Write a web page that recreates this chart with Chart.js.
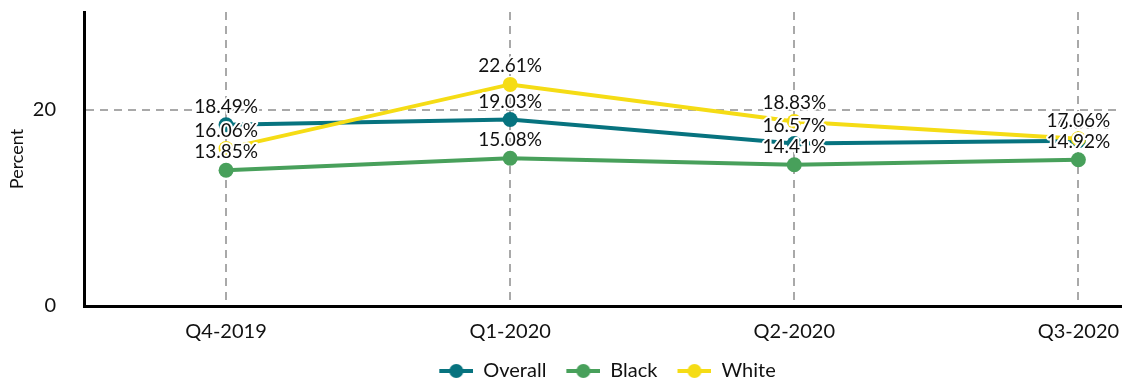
<!DOCTYPE html>
<html>
<head>
<meta charset="utf-8">
<script src="https://cdn.jsdelivr.net/npm/chart.js@4/dist/chart.umd.min.js"></script>
<style>
  html, body { margin: 0; padding: 0; background: #fff; }
  #wrap { width: 1122px; height: 379px; }
</style>
</head>
<body>
<div id="wrap"><canvas id="chart" width="1122" height="379"></canvas></div>
<script>
// 季度与各组比例（%）
const quarters = ['Q4-2019', 'Q1-2020', 'Q2-2020', 'Q3-2020'];
const overall = [18.49, 19.03, 16.57, 16.86];
const black = [13.85, 15.08, 14.41, 14.92];
const white = [16.06, 22.61, 18.83, 17.06];
const yTicks = [0, 20];

const colors = { overall: '#07737f', black: '#48a05b', white: '#f5dc15' };
const FONT = 'Lato, "Open Sans", sans-serif';

// 图例用的“线+圆点”小图标（左侧留白当作间距）
function legendIcon(color) {
    let c = document.createElement('canvas');
    c.width = 44;
    c.height = 16;
    let g = c.getContext('2d');
    g.strokeStyle = color;
    g.lineWidth = 4;
    g.beginPath();
    g.moveTo(10, 8);
    g.lineTo(44, 8);
    g.stroke();
    g.fillStyle = color;
    g.beginPath();
    g.arc(27, 8, 7, 0, Math.PI * 2);
    g.fill();
    return c;
}

function series(label, values, color, order) {
    return {
        label: label,
        data: values.map((v, i) => ({ x: i, y: v })),
        borderColor: color,
        backgroundColor: color,
        borderWidth: 4,
        pointRadius: 7.5,
        pointBorderWidth: 0,
        pointBackgroundColor: color,
        pointStyle: 'circle',
        tension: 0,
        order: order
    };
}

// 在每个点上方写数值，白色描边
const valueLabels = {
    id: 'valueLabels',
    afterDatasetsDraw(chart) {
        const ctx = chart.ctx;
        ctx.save();
        ctx.font = '19px ' + FONT;
        ctx.textAlign = 'center';
        ctx.textBaseline = 'alphabetic';
        ctx.lineJoin = 'round';
        chart.data.datasets.forEach((ds, di) => {
            const meta = chart.getDatasetMeta(di);
            meta.data.forEach((pt, i) => {
                const text = ds.data[i].y.toFixed(2) + '%';
                ctx.strokeStyle = '#fff';
                ctx.lineWidth = 4;
                ctx.strokeText(text, pt.x, pt.y - 12);
                ctx.fillStyle = '#111';
                ctx.fillText(text, pt.x, pt.y - 12);
            });
        });
        ctx.restore();
    }
};

// 去掉刻度文字带来的额外留白
function noPad(scale) {
    scale.paddingTop = 0;
    scale.paddingBottom = 0;
    scale.paddingLeft = 0;
    scale.paddingRight = 0;
}

const gridStyle = { color: '#a9a9a9', lineWidth: 2, drawTicks: false };
const axisBorder = { color: '#000', width: 3, dash: [8, 6] };

Chart.defaults.font.family = FONT;
Chart.defaults.color = '#111';

new Chart(document.getElementById('chart'), {
    type: 'line',
    data: {
        datasets: [
            series('Overall', overall, colors.overall, 3),
            series('Black', black, colors.black, 2),
            series('White', white, colors.white, 1)
        ]
    },
    options: {
        responsive: false,
        animation: false,
        layout: { padding: { top: 12, right: 1, left: 0, bottom: -12 }, autoPadding: false },
        scales: {
            x: {
                type: 'linear',
                min: -0.5,
                max: 3.15,
                afterBuildTicks: scale => { scale.ticks = quarters.map((q, i) => ({ value: i })); },
                afterFit: scale => { scale.height = 45; noPad(scale); },
                ticks: {
                    callback: v => quarters[v],
                    font: { size: 20 },
                    color: '#111',
                    padding: 14,
                    maxRotation: 0
                },
                grid: gridStyle,
                border: axisBorder
            },
            y: {
                min: 0,
                max: 30,
                afterBuildTicks: scale => { scale.ticks = yTicks.map(v => ({ value: v })); },
                afterFit: scale => { scale.width = 84; noPad(scale); },
                ticks: { font: { size: 20 }, color: '#111', padding: 28 },
                grid: gridStyle,
                border: axisBorder,
                title: { display: true, text: 'Percent', font: { size: 18 }, color: '#111', padding: 6 }
            }
        },
        plugins: {
            legend: {
                position: 'bottom',
                fullSize: false,
                labels: {
                    usePointStyle: true,
                    pointStyleWidth: 44,
                    font: { size: 20 },
                    color: '#111',
                    padding: 10,
                    generateLabels: chart => {
                        const items = Chart.defaults.plugins.legend.labels.generateLabels(chart);
                        items.forEach(it => {
                            it.pointStyle = legendIcon(chart.data.datasets[it.datasetIndex].borderColor);
                        });
                        return items.sort((a, b) => a.datasetIndex - b.datasetIndex);
                    }
                }
            },
            tooltip: { enabled: false }
        }
    },
    plugins: [valueLabels]
});
</script>
</body>
</html>
